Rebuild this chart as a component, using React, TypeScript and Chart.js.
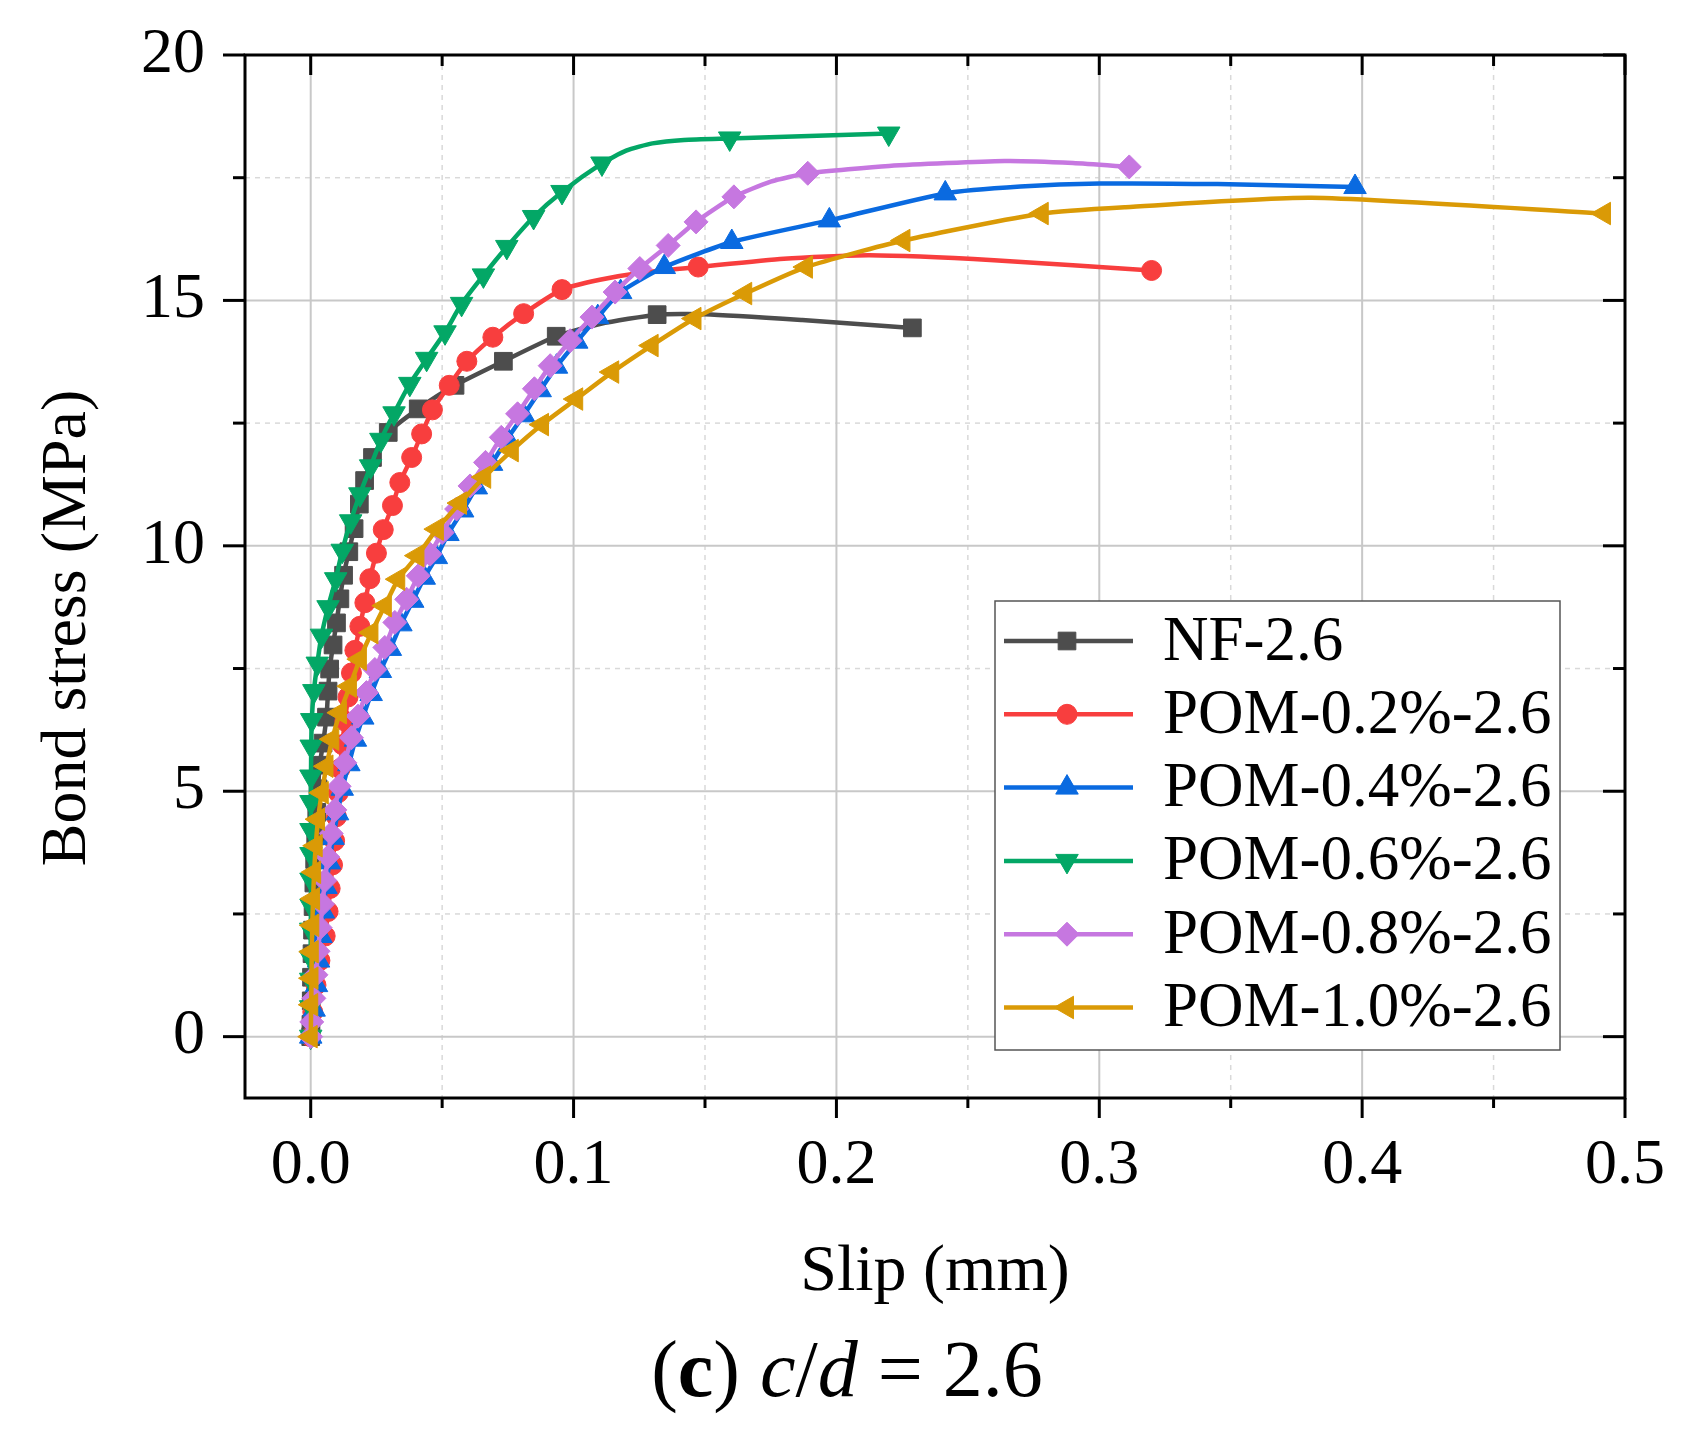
import { useEffect, useRef } from 'react';
import { Chart, registerables } from 'chart.js';
import { drawPoint } from 'chart.js/helpers';

Chart.register(...registerables);

const FONT = '"Liberation Serif", "Times New Roman", serif';

// axis ticks
const xMajor = [0, 0.1, 0.2, 0.3, 0.4, 0.5];
const xMinor = [0.05, 0.15, 0.25, 0.35, 0.45];
const yMajor = [0, 5, 10, 15, 20];
const yMinor = [2.5, 7.5, 12.5, 17.5];

// NF-2.6
const nfX = [0, 0.0001, 0.0002, 0.0003, 0.0005, 0.0007, 0.0009, 0.0012, 0.0015, 0.0019, 0.0023, 0.0028, 0.0034, 0.0047, 0.006, 0.0066, 0.0072, 0.0085, 0.0098, 0.0111, 0.0125, 0.0145, 0.0165, 0.0185, 0.0205, 0.0235, 0.0295, 0.0409, 0.0549, 0.0733, 0.0934, 0.11, 0.1318, 0.15, 0.187, 0.2289];
const nfY = [0, 0.25, 0.73, 1.21, 1.69, 2.17, 2.65, 3.13, 3.61, 4.09, 4.57, 5.05, 5.53, 5.98, 6.51, 7.04, 7.49, 7.98, 8.43, 8.92, 9.4, 9.88, 10.35, 10.85, 11.33, 11.8, 12.31, 12.79, 13.27, 13.76, 14.27, 14.52, 14.71, 14.72, 14.6, 14.44];
const nfBare = [31, 33, 34];

// POM-0.2%-2.6
const p2X = [0, 0.0008, 0.002, 0.0035, 0.0055, 0.0066, 0.0074, 0.0083, 0.0091, 0.0098, 0.0105, 0.0112, 0.012, 0.013, 0.0142, 0.0155, 0.0168, 0.0187, 0.0206, 0.0225, 0.025, 0.0276, 0.0311, 0.0339, 0.0384, 0.0422, 0.0463, 0.0527, 0.0594, 0.0693, 0.081, 0.0956, 0.11, 0.125, 0.1474, 0.18, 0.2127, 0.26, 0.3199];
const p2Y = [0, 0.5, 1.05, 1.55, 2.05, 2.55, 3.02, 3.5, 3.99, 4.48, 4.97, 5.46, 5.95, 6.43, 6.92, 7.41, 7.87, 8.36, 8.84, 9.33, 9.85, 10.33, 10.82, 11.29, 11.8, 12.28, 12.77, 13.27, 13.76, 14.25, 14.73, 15.22, 15.42, 15.56, 15.68, 15.85, 15.92, 15.82, 15.61];
const p2Bare = [32, 33, 35, 36, 37];

// POM-0.4%-2.6
const p4X = [0, 0.0013, 0.0022, 0.003, 0.0039, 0.0048, 0.0058, 0.0071, 0.0085, 0.0102, 0.012, 0.0145, 0.017, 0.0198, 0.023, 0.0265, 0.0303, 0.0343, 0.0388, 0.0432, 0.0478, 0.0522, 0.0578, 0.063, 0.0688, 0.0748, 0.081, 0.0873, 0.0935, 0.1012, 0.1092, 0.1179, 0.1345, 0.1602, 0.1973, 0.2414, 0.27, 0.3, 0.345, 0.3973];
const p4Y = [0, 0.55, 1.05, 1.55, 2.05, 2.55, 3.05, 3.55, 4.05, 4.55, 5.05, 5.55, 6.05, 6.5, 6.98, 7.45, 7.9, 8.4, 8.88, 9.35, 9.77, 10.24, 10.72, 11.19, 11.67, 12.18, 12.66, 13.17, 13.65, 14.16, 14.66, 15.17, 15.68, 16.19, 16.63, 17.18, 17.32, 17.38, 17.37, 17.31];
const p4Bare = [36, 37, 38];

// POM-0.6%-2.6
const p6X = [0, 0, 0, 0, 0, 0.0001, 0.0001, 0.0001, 0.0001, 0.0001, 0.0001, 0.0002, 0.0004, 0.0012, 0.0025, 0.0041, 0.0066, 0.0095, 0.012, 0.0152, 0.0187, 0.0228, 0.0267, 0.0317, 0.0377, 0.0441, 0.0511, 0.0574, 0.0657, 0.0746, 0.0848, 0.0956, 0.1108, 0.12, 0.13, 0.142, 0.1594, 0.2199];
const p6Y = [0, 0.6, 1.16, 1.61, 2.18, 2.67, 3.2, 3.72, 4.21, 4.78, 5.3, 5.91, 6.45, 7.04, 7.6, 8.17, 8.75, 9.32, 9.9, 10.5, 11.05, 11.62, 12.16, 12.7, 13.3, 13.81, 14.35, 14.93, 15.51, 16.09, 16.7, 17.21, 17.79, 18.05, 18.2, 18.27, 18.3, 18.4];
const p6Bare = [33, 34, 35];

// POM-0.8%-2.6
const p8X = [0, 0.0004, 0.0012, 0.002, 0.0028, 0.0036, 0.0045, 0.0054, 0.0065, 0.0078, 0.0092, 0.0108, 0.013, 0.0155, 0.018, 0.0212, 0.0244, 0.0282, 0.032, 0.0365, 0.0409, 0.0454, 0.05, 0.0555, 0.0606, 0.0665, 0.0725, 0.0787, 0.0851, 0.0911, 0.0987, 0.107, 0.1158, 0.1252, 0.136, 0.1466, 0.161, 0.175, 0.1891, 0.22, 0.264, 0.29, 0.3114];
const p8Y = [0, 0.3, 0.78, 1.26, 1.74, 2.22, 2.7, 3.18, 3.66, 4.14, 4.62, 5.1, 5.58, 6.09, 6.53, 7.01, 7.48, 7.93, 8.44, 8.91, 9.39, 9.83, 10.27, 10.75, 11.22, 11.7, 12.21, 12.69, 13.2, 13.67, 14.18, 14.66, 15.17, 15.65, 16.12, 16.6, 17.11, 17.42, 17.59, 17.74, 17.84, 17.8, 17.72];
const p8Bare = [37, 39, 40, 41];

// POM-1.0%-2.6
const p10X = [0, 0.0002, 0.0003, 0.0004, 0.0006, 0.0009, 0.0013, 0.0019, 0.0028, 0.0042, 0.006, 0.0082, 0.0111, 0.0149, 0.0187, 0.0231, 0.0282, 0.0333, 0.0406, 0.048, 0.0568, 0.066, 0.0765, 0.088, 0.101, 0.1147, 0.1297, 0.146, 0.1653, 0.1884, 0.2255, 0.2781, 0.31, 0.3807, 0.492];
const p10Y = [0, 0.65, 1.19, 1.73, 2.27, 2.81, 3.35, 3.89, 4.43, 4.97, 5.51, 6.06, 6.6, 7.14, 7.69, 8.23, 8.78, 9.32, 9.8, 10.34, 10.87, 11.4, 11.94, 12.47, 12.99, 13.54, 14.08, 14.63, 15.14, 15.68, 16.22, 16.77, 16.9, 17.09, 16.77];
const p10Bare = [32, 33];

const series = [
  { label: 'NF-2.6', x: nfX, y: nfY, bare: nfBare, color: '#4d4d4d', style: 'rect', rot: 0, r: 12.5 },
  { label: 'POM-0.2%-2.6', x: p2X, y: p2Y, bare: p2Bare, color: '#f83e3e', style: 'circle', rot: 0, r: 10 },
  { label: 'POM-0.4%-2.6', x: p4X, y: p4Y, bare: p4Bare, color: '#0a6ae0', style: 'triangle', rot: 0, r: 13 },
  { label: 'POM-0.6%-2.6', x: p6X, y: p6Y, bare: p6Bare, color: '#03a766', style: 'triangle', rot: 180, r: 13 },
  { label: 'POM-0.8%-2.6', x: p8X, y: p8Y, bare: p8Bare, color: '#c677e0', style: 'rectRot', rot: 0, r: 12 },
  { label: 'POM-1.0%-2.6', x: p10X, y: p10Y, bare: p10Bare, color: '#da9a06', style: 'triangle', rot: -90, r: 13 },
];

const framePlugin = {
  id: 'frame',
  beforeDatasetsDraw(chart: any) {
    const { ctx, chartArea: a, scales } = chart;
    const seg = (x1: number, y1: number, x2: number, y2: number) => {
      ctx.beginPath();
      ctx.moveTo(x1, y1);
      ctx.lineTo(x2, y2);
      ctx.stroke();
    };
    ctx.save();
    ctx.strokeStyle = '#d9d9d9';
    ctx.lineWidth = 1.5;
    ctx.setLineDash([5, 5]);
    xMinor.forEach((v) => { const p = scales.x.getPixelForValue(v); seg(p, a.top, p, a.bottom); });
    yMinor.forEach((v) => { const p = scales.y.getPixelForValue(v); seg(a.left, p, a.right, p); });
    ctx.setLineDash([]);
    ctx.strokeStyle = '#c8c8c8';
    ctx.lineWidth = 2;
    xMajor.forEach((v) => { const p = scales.x.getPixelForValue(v); seg(p, a.top, p, a.bottom); });
    yMajor.forEach((v) => { const p = scales.y.getPixelForValue(v); seg(a.left, p, a.right, p); });
    ctx.restore();
  },
  afterDatasetsDraw(chart: any) {
    const { ctx, chartArea: a, scales } = chart;
    const seg = (x1: number, y1: number, x2: number, y2: number) => {
      ctx.beginPath();
      ctx.moveTo(x1, y1);
      ctx.lineTo(x2, y2);
      ctx.stroke();
    };
    ctx.save();
    ctx.strokeStyle = '#000';
    ctx.lineWidth = 3;
    ctx.strokeRect(a.left, a.top, a.right - a.left, a.bottom - a.top);
    yMajor.forEach((v) => {
      const p = scales.y.getPixelForValue(v);
      seg(a.left - 22, p, a.left, p);
      seg(a.right - 22, p, a.right, p);
    });
    yMinor.forEach((v) => {
      const p = scales.y.getPixelForValue(v);
      seg(a.left - 12, p, a.left, p);
      seg(a.right - 12, p, a.right, p);
    });
    xMajor.forEach((v) => {
      const p = scales.x.getPixelForValue(v);
      seg(p, a.bottom, p, a.bottom + 20);
      seg(p, a.top, p, a.top + 20);
    });
    xMinor.forEach((v) => {
      const p = scales.x.getPixelForValue(v);
      seg(p, a.bottom, p, a.bottom + 10);
      seg(p, a.top, p, a.top + 11);
    });
    ctx.restore();
  },
  afterDraw(chart: any) {
    const { ctx, chartArea: a } = chart;
    ctx.save();
    ctx.fillStyle = '#000';
    ctx.textAlign = 'center';
    ctx.textBaseline = 'alphabetic';
    ctx.font = `66px ${FONT}`;
    ctx.fillText('Slip (mm)', (a.left + a.right) / 2, 1290);
    ctx.translate(85, 628);
    ctx.rotate(-Math.PI / 2);
    ctx.font = `64px ${FONT}`;
    ctx.fillText('Bond stress (MPa)', 0, 0);
    ctx.restore();

    // legend box
    const lx = 995, ly = 601, lw = 565, lh = 449;
    ctx.save();
    ctx.fillStyle = '#fff';
    ctx.fillRect(lx, ly, lw, lh);
    ctx.strokeStyle = '#555';
    ctx.lineWidth = 1.5;
    ctx.strokeRect(lx, ly, lw, lh);
    ctx.font = `63px ${FONT}`;
    ctx.textAlign = 'left';
    ctx.textBaseline = 'middle';
    series.forEach((s, i) => {
      const y = ly + 40 + i * 73.3;
      ctx.strokeStyle = s.color;
      ctx.fillStyle = s.color;
      ctx.lineWidth = 4.5;
      ctx.beginPath();
      ctx.moveTo(lx + 9, y);
      ctx.lineTo(lx + 138, y);
      ctx.stroke();
      ctx.lineWidth = 1;
      drawPoint(ctx, { pointStyle: s.style, rotation: s.rot, radius: s.r, borderWidth: 1 }, lx + 72, y);
      ctx.fillStyle = '#000';
      ctx.fillText(s.label, lx + 168, y + 2);
    });
    ctx.restore();
  },
};

function BondSlipChart() {
  const chartRef = useRef<HTMLCanvasElement>(null);

  useEffect(() => {
    if (!chartRef.current) return;
    const ctx = chartRef.current.getContext('2d');
    if (!ctx) return;

    const chart = new Chart(ctx, {
      type: 'line',
      data: {
        datasets: series.map((s, i) => ({
          label: s.label,
          data: s.x.map((x, k) => ({ x, y: s.y[k] })),
          borderColor: s.color,
          backgroundColor: s.color,
          borderWidth: 4.5,
          tension: 0.2,
          pointStyle: s.style as any,
          pointRotation: s.rot,
          pointRadius: (c: any) => (s.bare.includes(c.dataIndex) ? 0 : s.r),
          pointBorderWidth: 1,
          pointBackgroundColor: s.color,
          pointBorderColor: s.color,
          order: series.length - i,
        })),
      },
      options: {
        animation: false,
        responsive: true,
        maintainAspectRatio: false,
        events: [],
        layout: { padding: { left: 0, top: 55, right: 69, bottom: 0 } },
        scales: {
          x: {
            type: 'linear',
            min: -0.025,
            max: 0.5,
            grid: { display: false, drawTicks: false },
            border: { display: false },
            afterBuildTicks: (s: any) => { s.ticks = [...xMajor, ...xMinor].sort((a, b) => a - b).map((value) => ({ value })); },
            afterFit: (s: any) => {
              s.height = 342;
              s.paddingLeft = 0;
              s.paddingRight = 0;
            },
            ticks: {
              autoSkip: false,
              maxRotation: 0,
              padding: 30,
              color: '#000',
              font: { family: FONT, size: 64 },
              callback: (v: any) => (xMajor.includes(v) ? Number(v).toFixed(1) : ''),
            },
          },
          y: {
            type: 'linear',
            min: -1.25,
            max: 20,
            grid: { display: false, drawTicks: false },
            border: { display: false },
            afterBuildTicks: (s: any) => { s.ticks = [...yMajor, ...yMinor].sort((a, b) => a - b).map((value) => ({ value })); },
            afterFit: (s: any) => {
              s.width = 245;
              s.paddingTop = 0;
              s.paddingBottom = 0;
            },
            ticks: {
              autoSkip: false,
              padding: 40,
              color: '#000',
              font: { family: FONT, size: 64 },
              callback: (v: any) => (yMajor.includes(v) ? String(v) : ''),
            },
          },
        },
        plugins: {
          legend: { display: false },
          tooltip: { enabled: false },
        },
      },
      plugins: [framePlugin],
    });

    return () => chart.destroy();
  }, []);

  return <canvas ref={chartRef} />;
}

export default function App() {
  return (
    <div style={{ position: 'absolute', left: 0, top: 0, width: 1694, height: 1440, background: '#fff' }}>
      <div style={{ position: 'absolute', left: 0, top: 0, width: 1694, height: 1440 }}>
        <BondSlipChart />
      </div>
      <div
        style={{
          position: 'absolute',
          left: 0,
          top: 1329,
          width: 1694,
          textAlign: 'center',
          fontFamily: FONT,
          fontSize: 80,
          lineHeight: '80px',
          color: '#000',
        }}
      >
        (<b>c</b>) <i>c</i>/<i>d</i> = 2.6
      </div>
    </div>
  );
}
